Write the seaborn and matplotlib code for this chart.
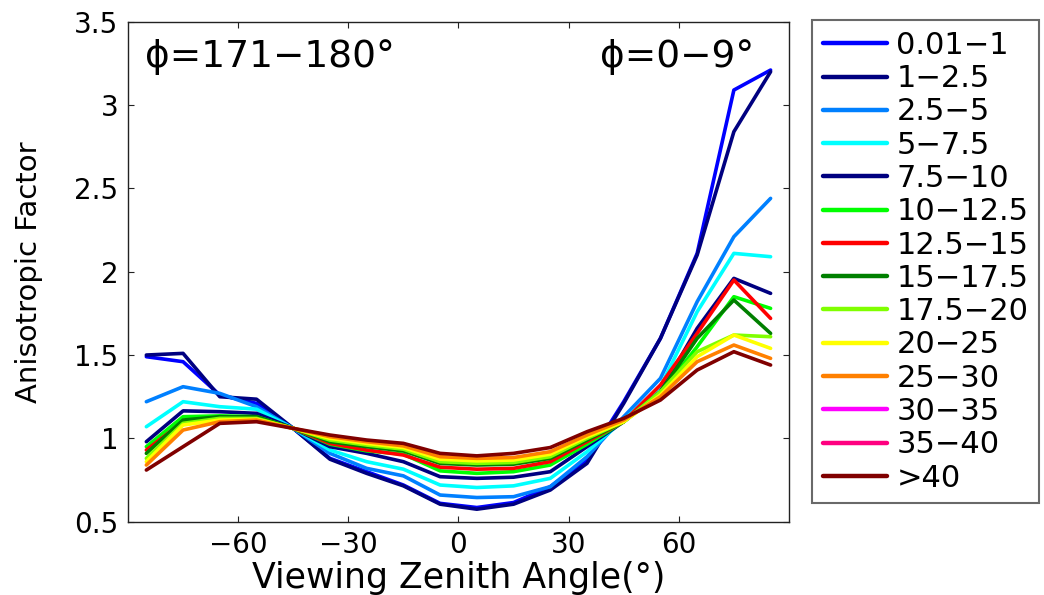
import numpy as np
import pandas as pd
import seaborn as sns
import matplotlib.pyplot as plt
from matplotlib.lines import Line2D

# viewing zenith angle bins (deg)
angles = [-85, -75, -65, -55, -45, -35, -25, -15, -5, 5, 15, 25, 35, 45, 55, 65, 75, 85]

# anisotropic factor per range
r_0_1 = [1.49, 1.46, 1.26, 1.21, 1.06, 0.88, 0.80, 0.72, 0.61, 0.585, 0.615, 0.71, 0.87, 1.22, 1.60, 2.11, 3.09, 3.21]
r_1_25 = [1.50, 1.51, 1.25, 1.235, 1.06, 0.875, 0.79, 0.715, 0.605, 0.575, 0.605, 0.69, 0.85, 1.21, 1.60, 2.10, 2.84, 3.20]
r_25_5 = [1.22, 1.31, 1.27, 1.19, 1.06, 0.91, 0.82, 0.775, 0.66, 0.645, 0.65, 0.71, 0.89, 1.13, 1.36, 1.82, 2.21, 2.44]
r_5_75 = [1.07, 1.22, 1.19, 1.175, 1.06, 0.93, 0.86, 0.815, 0.72, 0.705, 0.715, 0.76, 0.92, 1.11, 1.31, 1.76, 2.11, 2.09]
r_75_10 = [0.98, 1.165, 1.16, 1.15, 1.06, 0.95, 0.91, 0.86, 0.77, 0.76, 0.767, 0.80, 0.95, 1.10, 1.28, 1.66, 1.96, 1.87]
r_10_125 = [0.95, 1.13, 1.135, 1.13, 1.06, 0.965, 0.925, 0.905, 0.805, 0.79, 0.80, 0.84, 0.965, 1.10, 1.27, 1.55, 1.85, 1.78]
r_125_15 = [0.93, 1.10, 1.12, 1.12, 1.06, 0.97, 0.93, 0.90, 0.827, 0.815, 0.82, 0.86, 0.98, 1.10, 1.32, 1.63, 1.95, 1.72]
r_15_175 = [0.91, 1.11, 1.13, 1.13, 1.06, 0.98, 0.95, 0.925, 0.85, 0.84, 0.845, 0.88, 0.99, 1.10, 1.28, 1.60, 1.83, 1.63]
r_175_20 = [0.88, 1.09, 1.12, 1.12, 1.06, 0.99, 0.96, 0.935, 0.86, 0.85, 0.855, 0.89, 1.00, 1.10, 1.28, 1.52, 1.62, 1.61]
r_20_25 = [0.86, 1.08, 1.11, 1.115, 1.06, 1.00, 0.97, 0.945, 0.875, 0.865, 0.87, 0.905, 1.01, 1.10, 1.26, 1.49, 1.62, 1.54]
r_25_30 = [0.84, 1.05, 1.10, 1.11, 1.06, 1.01, 0.98, 0.955, 0.89, 0.88, 0.885, 0.92, 1.02, 1.11, 1.25, 1.46, 1.56, 1.48]
r_30_35 = []   # no curve drawn for this range
r_35_40 = []   # no curve drawn for this range
r_40 = [0.81, 0.95, 1.09, 1.10, 1.06, 1.02, 0.99, 0.97, 0.91, 0.895, 0.91, 0.945, 1.04, 1.12, 1.23, 1.41, 1.52, 1.44]

labels = ['0.01\u22121', '1\u22122.5', '2.5\u22125', '5\u22127.5', '7.5\u221210', '10\u221212.5',
          '12.5\u221215', '15\u221217.5', '17.5\u221220', '20\u221225', '25\u221230',
          '30\u221235', '35\u221240', '>40']
values = [r_0_1, r_1_25, r_25_5, r_5_75, r_75_10, r_10_125, r_125_15, r_15_175,
          r_175_20, r_20_25, r_25_30, r_30_35, r_35_40, r_40]
colors = ['#0000ff', '#000080', '#0080ff', '#00ffff', '#000080', '#00ff00', '#ff0000',
          '#008000', '#80ff00', '#ffff00', '#ff8000', '#ff00ff', '#ff0080', '#800000']

sns.set_style('ticks')
plt.rcParams['font.family'] = ['DejaVu Sans']
plt.rcParams['text.color'] = 'black'
plt.rcParams['axes.labelcolor'] = 'black'
plt.rcParams['xtick.direction'] = 'in'
plt.rcParams['ytick.direction'] = 'in'
plt.rcParams['xtick.top'] = True
plt.rcParams['ytick.right'] = True

fig = plt.figure(figsize=(10.44, 5.95), dpi=100)
ax = fig.add_axes([0.1226, 0.1232, 0.6331, 0.8403])

for lab, vals, col in zip(labels, values, colors):
    if len(vals) == 0:
        continue
    df = pd.DataFrame({'angle': angles, 'factor': vals})
    sns.lineplot(data=df, x='angle', y='factor', color=col, lw=2.6, ax=ax,
                 estimator=None, sort=False)

ax.set_xlim(-90, 90)
ax.set_ylim(0.5, 3.5)
ax.set_xticks([-60, -30, 0, 30, 60])
ax.set_yticks([0.5, 1, 1.5, 2, 2.5, 3, 3.5])
ax.set_yticklabels(['0.5', '1', '1.5', '2', '2.5', '3', '3.5'])
ax.tick_params(labelsize=20, length=4, width=0.8, colors='#222222', labelcolor='black', pad=7)
for s in ax.spines.values():
    s.set_color('#222222')
    s.set_linewidth(1.0)

ax.set_xlabel('Viewing Zenith Angle(\u00b0)', fontsize=25, labelpad=1)
ax.set_ylabel('Anisotropic Factor', fontsize=21, labelpad=22)

ax.text(-85.5, 3.29, '\u03d5=171\u2212180\u00b0', fontsize=27, ha='left', va='center')
ax.text(80.5, 3.29, '\u03d5=0\u22129\u00b0', fontsize=27, ha='right', va='center')

handles = [Line2D([], [], color=c, lw=3.2) for c in colors]
leg = fig.legend(handles, labels, loc='upper left', bbox_to_anchor=(0.778, 0.966),
                 fontsize=22, frameon=True, fancybox=False, borderpad=0.35,
                 handlelength=2.1, handletextpad=0.3, labelspacing=0.14,
                 borderaxespad=0)
leg.get_frame().set_edgecolor('#444444')
leg.get_frame().set_linewidth(1.5)

plt.savefig('out.png', dpi=100)
